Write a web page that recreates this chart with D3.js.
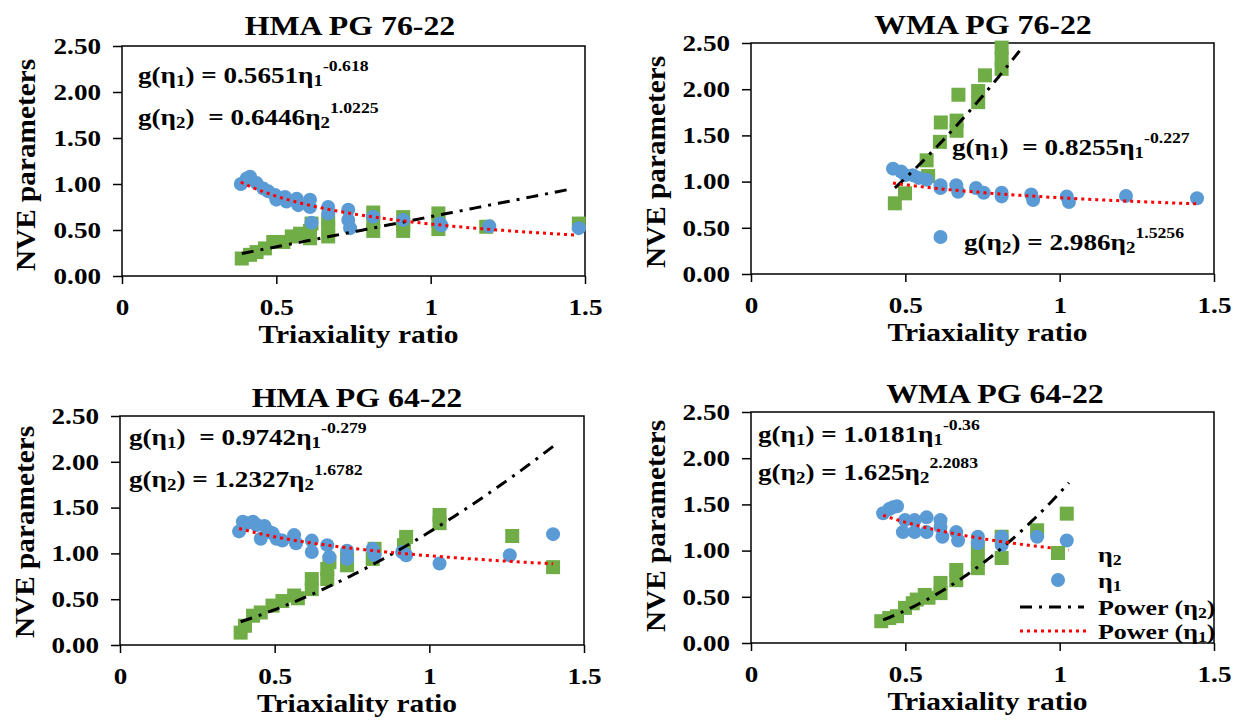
<!DOCTYPE html>
<html>
<head>
<meta charset="utf-8">
<script src="https://cdn.jsdelivr.net/npm/d3@7"></script>
<style>
  body { margin: 0; background: #fff; }
  text { font-family: "Liberation Serif", "Times New Roman", serif; font-weight: bold; fill: #000; }
</style>
</head>
<body>
<div id="chart"></div>
<script>
// ---- data: [triaxiality ratio, NVE parameter] ----
var hma7622Eta1 = [[0.385,1.00],[0.404,1.06],[0.415,1.08],[0.436,1.01],[0.458,0.95],[0.474,0.92],[0.496,0.88],[0.50,0.83],
  [0.528,0.86],[0.533,0.81],[0.566,0.84],[0.571,0.77],[0.609,0.83],[0.609,0.75],[0.614,0.58],[0.668,0.75],[0.668,0.68],
  [0.733,0.72],[0.733,0.61],[0.739,0.52],[0.814,0.645],[0.911,0.61],[1.03,0.57],[1.035,0.55],[1.19,0.54],[1.48,0.52]];
var hma7622Eta2 = [[0.388,0.19],[0.415,0.23],[0.436,0.26],[0.463,0.30],[0.49,0.37],[0.523,0.37],[0.55,0.43],[0.577,0.46],
  [0.609,0.41],[0.609,0.49],[0.614,0.57],[0.668,0.43],[0.668,0.52],[0.668,0.60],[0.814,0.49],[0.814,0.59],[0.814,0.69],
  [0.911,0.49],[0.911,0.56],[0.911,0.64],[1.025,0.51],[1.025,0.60],[1.025,0.68],[1.18,0.535],[1.48,0.57]];

var wma7622Eta1 = [[0.46,1.14],[0.486,1.11],[0.50,1.07],[0.524,1.07],[0.543,1.04],[0.569,1.02],[0.614,0.96],[0.614,0.93],
  [0.665,0.96],[0.671,0.89],[0.729,0.93],[0.754,0.88],[0.812,0.88],[0.812,0.84],[0.908,0.86],[0.914,0.80],[1.023,0.84],
  [1.03,0.78],[1.215,0.845],[1.445,0.82],[0.614,0.40]];
var wma7622Eta2 = [[0.466,0.765],[0.499,0.873],[0.569,1.23],[0.574,1.06],[0.612,1.43],[0.615,1.64],[0.666,1.55],[0.666,1.66],
  [0.672,1.94],[0.736,1.86],[0.736,1.98],[0.758,2.15],[0.812,2.22],[0.812,2.33],[0.812,2.45]];

var hma6422Eta1 = [[0.385,1.24],[0.397,1.345],[0.41,1.33],[0.43,1.345],[0.442,1.31],[0.455,1.16],[0.467,1.30],[0.48,1.24],
  [0.493,1.22],[0.506,1.16],[0.525,1.14],[0.563,1.20],[0.569,1.11],[0.62,1.14],[0.62,1.015],[0.67,1.09],[0.677,0.96],
  [0.734,1.03],[0.734,0.94],[0.817,1.05],[0.823,0.98],[0.912,1.015],[0.925,0.98],[1.033,0.89],[1.26,0.98],[1.40,1.21]];
var hma6422Eta2 = [[0.39,0.135],[0.404,0.21],[0.43,0.32],[0.455,0.355],[0.493,0.43],[0.525,0.48],[0.563,0.54],[0.575,0.51],
  [0.62,0.61],[0.62,0.72],[0.67,0.72],[0.67,0.83],[0.677,0.905],[0.734,0.87],[0.734,0.94],[0.817,0.94],[0.823,1.05],
  [0.918,1.09],[0.925,1.18],[1.033,1.33],[1.033,1.42],[1.268,1.19],[1.40,0.85]];

var wma6422Eta1 = [[0.428,1.405],[0.448,1.45],[0.46,1.47],[0.473,1.48],[0.492,1.20],[0.499,1.33],[0.53,1.33],[0.53,1.20],
  [0.569,1.36],[0.569,1.20],[0.614,1.33],[0.614,1.255],[0.62,1.15],[0.665,1.20],[0.671,1.11],[0.735,1.15],[0.735,1.08],
  [0.812,1.15],[0.812,1.06],[0.927,1.15],[1.023,1.11]];
var wma6422Eta2 = [[0.422,0.236],[0.448,0.27],[0.473,0.29],[0.499,0.38],[0.524,0.43],[0.537,0.47],[0.563,0.52],[0.575,0.49],
  [0.614,0.54],[0.614,0.65],[0.665,0.68],[0.665,0.79],[0.735,0.81],[0.735,0.90],[0.735,1.04],[0.812,0.92],[0.812,1.15],
  [0.927,1.22],[1.023,1.40]];

// power trend lines y = a * x^b, as printed on each panel
var titles = ["HMA PG 76-22", "WMA PG 76-22", "HMA PG 64-22", "WMA PG 64-22"];
var fit1Coef = ["0.5651", "0.8255", "0.9742", "1.0181"];
var fit1Exp = ["-0.618", "-0.227", "-0.279", "-0.36"];
var fit2Coef = ["0.6446", "2.986", "1.2327", "1.625"];
var fit2Exp = ["1.0225", "1.5256", "1.6782", "2.2083"];
var fit1Range = [[0.385, 1.47], [0.46, 1.45], [0.385, 1.40], [0.428, 1.03]];
var fit2Range = [[0.388, 1.45], [0.466, 0.87], [0.39, 1.40], [0.428, 1.03]];

var xTicks = [0, 0.5, 1, 1.5];
var yTicks = [0, 0.5, 1, 1.5, 2, 2.5];

var BLUE = "#5B9BD5", GREEN = "#70AD47";
var SX = 1.18; // the source picture is stretched sideways

var svg = d3.select("#chart").append("svg")
    .attr("width", 1241)
    .attr("height", 721);

function stext(sel, x, y, size, anchor) {
    return sel.append("text")
        .attr("transform", "translate(" + x + "," + y + ") scale(" + SX + ",1)")
        .attr("text-anchor", anchor || "start")
        .style("font-size", size + "px");
}

function equation(sel, x, y, idx, coef, exp, gap) {
    var t = stext(sel, x, y, 23);
    t.append("tspan").text("g(η");
    t.append("tspan").attr("dy", 3).style("font-size", "16px").text(idx);
    t.append("tspan").attr("dy", -3).text(")");
    t.append("tspan").attr("dx", gap).text(" = " + coef + "η");
    t.append("tspan").attr("dy", 3).style("font-size", "16px").text(idx);
    t.append("tspan").attr("dy", -15).style("font-size", "15px").text(exp);
}

var panels = [
    {left: 122, top: 46, right: 585, bottom: 276, eta1: hma7622Eta1, eta2: hma7622Eta2,
     titleX: 350, titleY: 35, labX: 35, labY: 165,
     eq: [[138, 83, 0], [138, 125, 6]]},
    {left: 751, top: 43, right: 1214, bottom: 274, eta1: wma7622Eta1, eta2: wma7622Eta2,
     titleX: 983, titleY: 34, labX: 665, labY: 162,
     eq: [[952, 155, 6], [964, 250, 0]]},
    {left: 120, top: 416, right: 584, bottom: 645, eta1: hma6422Eta1, eta2: hma6422Eta2,
     titleX: 357, titleY: 407, labX: 34, labY: 532,
     eq: [[129, 445, 6], [129, 487, 0]]},
    {left: 751, top: 412, right: 1214, bottom: 643, eta1: wma6422Eta1, eta2: wma6422Eta2,
     titleX: 995, titleY: 403, labX: 665, labY: 526,
     eq: [[758, 442, 0], [758, 480, 0]]}
];

panels.forEach(function (p, i) {
    var w = p.right - p.left, h = p.bottom - p.top;
    var x = d3.scaleLinear().domain([0, 1.5]).range([0, w]);
    var y = d3.scaleLinear().domain([0, 2.5]).range([h, 0]);

    var g = svg.append("g")
        .attr("transform", "translate(" + p.left + "," + p.top + ")");

    // axes
    var ya = g.append("g")
        .call(d3.axisLeft(y).tickValues(yTicks).tickFormat(d3.format(".2f")).tickSize(9).tickPadding(12));
    var xa = g.append("g")
        .attr("transform", "translate(0," + h + ")")
        .call(d3.axisBottom(x).tickValues(xTicks).tickFormat(d3.format("")).tickSize(8).tickPadding(15));
    [ya, xa].forEach(function (a) {
        a.select(".domain").remove();
        a.selectAll("line").attr("stroke", "#000").attr("stroke-width", 1.5);
        a.selectAll("text")
            .attr("transform", "scale(" + SX + ",1)")
            .style("font-size", "23px")
            .attr("fill", "#000");
    });
    ya.selectAll("text").attr("x", -21 / SX);

    g.append("rect")
        .attr("width", w)
        .attr("height", h)
        .attr("fill", "none")
        .attr("stroke", "#000")
        .attr("stroke-width", 1.5);

    // η2 squares first, η1 circles over them
    g.selectAll(".sq")
        .data(p.eta2)
        .enter().append("rect")
        .attr("x", function (d) { return x(d[0]) - 7; })
        .attr("y", function (d) { return y(d[1]) - 7; })
        .attr("width", 14)
        .attr("height", 14)
        .attr("fill", GREEN);
    g.selectAll(".dot")
        .data(p.eta1)
        .enter().append("circle")
        .attr("cx", function (d) { return x(d[0]); })
        .attr("cy", function (d) { return y(d[1]); })
        .attr("r", 7)
        .attr("fill", BLUE);

    // trend lines
    var line = d3.line()
        .x(function (d) { return x(d[0]); })
        .y(function (d) { return y(d[1]); });
    function powerPts(a, b, r) {
        return d3.range(0, 61).map(function (k) {
            var xv = r[0] + (r[1] - r[0]) * k / 60;
            return [xv, a * Math.pow(xv, b)];
        });
    }
    g.append("path")
        .attr("d", line(powerPts(+fit2Coef[i], +fit2Exp[i], fit2Range[i])))
        .attr("fill", "none")
        .attr("stroke", "#000")
        .attr("stroke-width", 3)
        .attr("stroke-dasharray", "12,7,3,7");
    g.append("path")
        .attr("d", line(powerPts(+fit1Coef[i], +fit1Exp[i], fit1Range[i])))
        .attr("fill", "none")
        .attr("stroke", "#FF0000")
        .attr("stroke-width", 3)
        .attr("stroke-dasharray", "3,4");

    // titles and labels
    stext(svg, p.titleX, p.titleY, 27, "middle").text(titles[i]);
    stext(svg, (p.left + p.right) / 2 + 5, p.bottom + 67, 25, "middle").text("Triaxiality ratio");
    svg.append("text")
        .attr("transform", "translate(" + p.labX + "," + p.labY + ") rotate(-90) scale(1.22," + SX + ")")
        .attr("text-anchor", "middle")
        .style("font-size", "24px")
        .text("NVE parameters");

    equation(svg, p.eq[0][0], p.eq[0][1], "1", fit1Coef[i], fit1Exp[i], p.eq[0][2]);
    equation(svg, p.eq[1][0], p.eq[1][1], "2", fit2Coef[i], fit2Exp[i], p.eq[1][2]);
});

// legend (bottom-right panel)
var legend = svg.append("g");
legend.append("rect").attr("x", 1051).attr("y", 546).attr("width", 14).attr("height", 14).attr("fill", GREEN);
legend.append("circle").attr("cx", 1058).attr("cy", 580).attr("r", 7).attr("fill", BLUE);
legend.append("line").attr("x1", 1020).attr("x2", 1084).attr("y1", 607).attr("y2", 607)
    .attr("stroke", "#000").attr("stroke-width", 3).attr("stroke-dasharray", "12,7,3,7");
legend.append("line").attr("x1", 1020).attr("x2", 1088).attr("y1", 631).attr("y2", 631)
    .attr("stroke", "#FF0000").attr("stroke-width", 3).attr("stroke-dasharray", "3,4");
function legendText(y, pre, idx) {
    var t = stext(legend, 1098, y, 22);
    t.append("tspan").text(pre + "η");
    t.append("tspan").attr("dy", 3).style("font-size", "15px").text(idx);
    t.append("tspan").attr("dy", -3).text(pre ? ")" : "");
}
legendText(562, "", "2");
legendText(588, "", "1");
legendText(615, "Power (", "2");
legendText(639, "Power (", "1");
</script>
</body>
</html>
